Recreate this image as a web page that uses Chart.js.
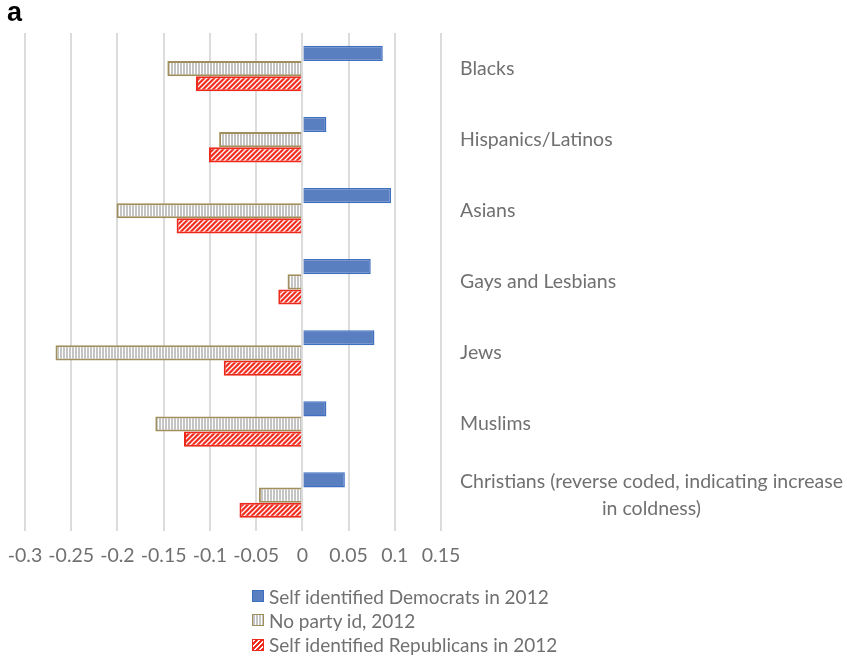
<!DOCTYPE html>
<html lang="en">
<head>
  <meta charset="UTF-8">
  <title>Change in coldness by party id</title>
  <style>
    body { margin: 0; background: #fff; font-family: 'Lato', sans-serif; }
    #wrap { position: relative; width: 847px; height: 660px; }
    #panel { position: absolute; left: 7px; top: -1px; font: bold 27px/27px 'Liberation Sans', Arial, sans-serif; color: #000; }
    #legend { position: absolute; left: 252px; top: 584px; font-size: 19px; color: #707070; }
    .item { display: flex; align-items: center; height: 24.3px; }
    .swatch { width: 10px; height: 10px; margin-right: 5px; box-sizing: content-box; }
  </style>
</head>
<body>

<div id="wrap">
  <canvas id="barChart"></canvas>
  <div id="panel">a</div>
  <div id="legend"></div>
</div>

<script src="https://cdn.jsdelivr.net/npm/chart.js"></script>
<script>
  const categories = ['Blacks', 'Hispanics/Latinos', 'Asians', 'Gays and Lesbians', 'Jews', 'Muslims',
    ['Christians (reverse coded, indicating increase', 'in coldness)']];
  const seriesNames = ['Self identified Democrats in 2012', 'No party id, 2012', 'Self identified Republicans in 2012'];
  const democrats = [0.087, 0.026, 0.096, 0.074, 0.078, 0.026, 0.046];
  const noParty = [-0.146, -0.090, -0.201, -0.016, -0.267, -0.159, -0.047];
  const republicans = [-0.115, -0.101, -0.136, -0.026, -0.085, -0.128, -0.068];
  const xTicks = [-0.3, -0.25, -0.2, -0.15, -0.1, -0.05, 0, 0.05, 0.1, 0.15];

  // fill patterns
  function verticalStripes() {
    const c = document.createElement('canvas');
    c.width = 3; c.height = 1;
    const g = c.getContext('2d');
    g.fillStyle = '#fff'; g.fillRect(0, 0, 3, 1);
    g.fillStyle = '#c4c4c4'; g.fillRect(0, 0, 2, 1);
    return g.createPattern(c, 'repeat');
  }
  function diagonalStripes() {
    const s = 5;
    const c = document.createElement('canvas');
    c.width = s; c.height = s;
    const g = c.getContext('2d');
    g.fillStyle = '#f02d1e'; g.fillRect(0, 0, s, s);
    g.strokeStyle = '#fff'; g.lineWidth = 1.3;
    g.beginPath();
    g.moveTo(0, s); g.lineTo(s, 0);
    g.moveTo(-1, 1); g.lineTo(1, -1);
    g.moveTo(s - 1, s + 1); g.lineTo(s + 1, s - 1);
    g.stroke();
    return g.createPattern(c, 'repeat');
  }

  const colors = {
    dem: { fill: '#5a7fc0', border: '#3f6fbf' },
    none: { fill: verticalStripes(), border: '#a08f5c' },
    rep: { fill: diagonalStripes(), border: '#ec2a1c' }
  };

  // category labels sit right of the plot, wrapped lines centred
  const categoryLabels = {
    id: 'categoryLabels',
    afterDraw(chart) {
      const { ctx, chartArea, scales: { y } } = chart;
      ctx.save();
      ctx.font = '19.5px Lato';
      ctx.fillStyle = '#707070';
      ctx.textBaseline = 'middle';
      const x0 = chartArea.right + 19;
      categories.forEach((label, i) => {
        const yc = y.getPixelForValue(i);
        const lines = Array.isArray(label) ? label : [label];
        const widest = Math.max(...lines.map(l => ctx.measureText(l).width));
        lines.forEach((line, j) => {
          const w = ctx.measureText(line).width;
          ctx.fillText(line, x0 + (widest - w) / 2, yc + (j - (lines.length - 1) / 2) * 27);
        });
      });
      ctx.restore();
    }
  };

  const data = {
    labels: categories,
    datasets: [
      { label: seriesNames[0], data: democrats, backgroundColor: colors.dem.fill, borderColor: colors.dem.border, borderWidth: 1.5 },
      { label: seriesNames[1], data: noParty, backgroundColor: colors.none.fill, borderColor: colors.none.border, borderWidth: 2 },
      { label: seriesNames[2], data: republicans, backgroundColor: colors.rep.fill, borderColor: colors.rep.border, borderWidth: 2 }
    ]
  };

  const config = {
    type: 'bar',
    data: data,
    options: {
      indexAxis: 'y',
      responsive: true,
      maintainAspectRatio: false,
      animation: false,
      categoryPercentage: 0.64,
      barPercentage: 1,
      layout: { padding: { top: 33, left: 25, right: 406, bottom: 86 } },
      scales: {
        x: {
          min: -0.3,
          max: 0.15,
          afterBuildTicks: axis => { axis.ticks = xTicks.map(v => ({ value: v })); },
          grid: { color: '#dcdcdc', lineWidth: 2, drawTicks: true, tickLength: 6, tickColor: 'transparent' },
          border: { display: false },
          ticks: {
            callback: v => String(v),
            color: '#707070',
            font: { family: 'Lato', size: 19.5 },
            padding: 7,
            autoSkip: false,
            maxRotation: 0
          }
        },
        y: { display: false }
      },
      plugins: {
        legend: { display: false },
        tooltip: { enabled: false }
      }
    },
    plugins: [categoryLabels]
  };

  const ctx = document.getElementById('barChart').getContext('2d');
  const myChart = new Chart(ctx, config);

  // legend, one entry per row
  const swatchCss = [
    'background:' + colors.dem.fill + ';border:1.5px solid ' + colors.dem.border,
    'background:repeating-linear-gradient(90deg,#c4c4c4 0 2px,#fff 2px 3px);border:1.5px solid ' + colors.none.border,
    'background:repeating-linear-gradient(-45deg,#f02d1e 0 2px,#fff 2px 3.4px);border:1.5px solid ' + colors.rep.border
  ];
  document.getElementById('legend').innerHTML = seriesNames.map((name, i) =>
    '<div class="item"><span class="swatch" style="' + swatchCss[i] + '"></span>' + name + '</div>'
  ).join('');
</script>

</body>
</html>
